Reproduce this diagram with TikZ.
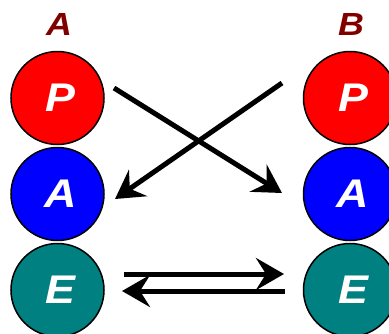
\documentclass[tikz,border=0pt]{standalone}
\usepackage{fontspec}
\setmainfont{Liberation Sans}
\newfontfamily\widefont[FakeStretch=1.12]{Liberation Sans}
\usetikzlibrary{arrows.meta}
\definecolor{tealc}{HTML}{008080}
\definecolor{labred}{HTML}{800000}
\begin{document}
\begin{tikzpicture}[x=1pt,y=-1pt,
  ball/.style={circle,draw=black,line width=1.5pt,minimum size=93pt,inner sep=0pt,text=white,
    font=\widefont\fontsize{40}{40}\selectfont\bfseries\itshape},
  head/.style={text=labred,font=\widefont\fontsize{32}{32}\selectfont\bfseries\itshape},
  arr/.style={line width=5pt,-{Stealth[length=28pt,width=32pt,inset=10pt]}}]
\useasboundingbox (0,0) rectangle (389,333);
\node[head] (hA) at (59,24) {A};
\node[head] (hB) at (351,24) {B};
\node[ball,fill=red] (lP) at (57.5,98) {\hspace*{6pt}P};
\node[ball,fill=blue] (lA) at (57.5,194) {\hspace*{6pt}A};
\node[ball,fill=tealc] (lE) at (57.5,290) {\hspace*{6pt}E};
\node[ball,fill=red] (rP) at (350,98) {\hspace*{6pt}P};
\node[ball,fill=blue] (rA) at (350,194) {\hspace*{6pt}A};
\node[ball,fill=tealc] (rE) at (350,290) {\hspace*{6pt}E};
\coordinate (s1) at (114,88);
\coordinate (t1) at (282,193);
\coordinate (s2) at (282,83);
\coordinate (t2) at (115,199);
\coordinate (s3) at (124,274);
\coordinate (t3) at (284,274);
\coordinate (s4) at (285,291);
\coordinate (t4) at (122,291);
\draw[arr] (s1) -- (t1);
\draw[arr] (s2) -- (t2);
\draw[arr] (s3) -- (t3);
\draw[arr] (s4) -- (t4);
\end{tikzpicture}
\end{document}
